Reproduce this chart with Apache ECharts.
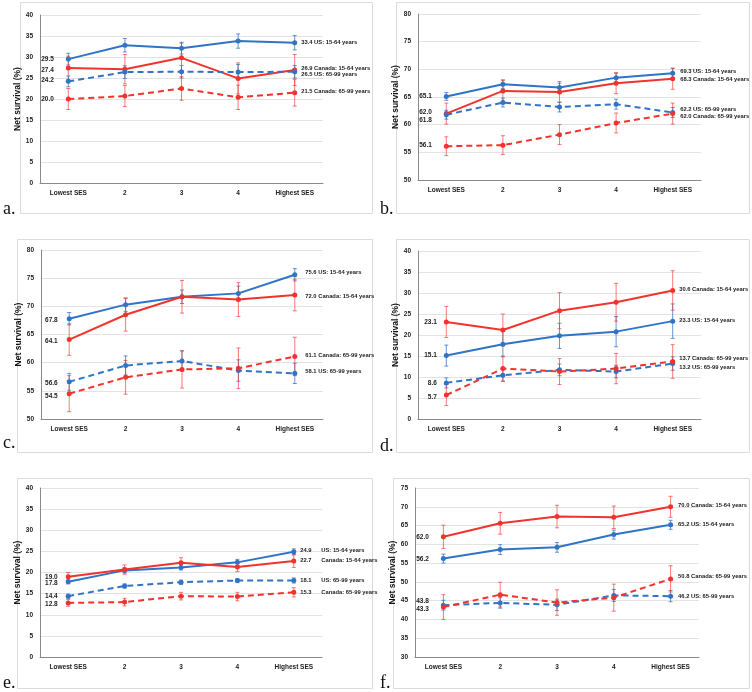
<!DOCTYPE html>
<html>
<head>
<meta charset="utf-8">
<script src="https://cdn.jsdelivr.net/npm/echarts@6/dist/echarts.min.js"></script>
<style>
html, body { margin: 0; background: #fff; }
#chart { width: 752px; height: 692px; }
</style>
</head>
<body>
<div id="chart"></div>
<script>
var categories = ['Lowest SES', '2', '3', '4', 'Highest SES']
var seriesNames = ['US: 15-64 years', 'Canada: 15-64 years', 'US: 65-99 years', 'Canada: 65-99 years']
var panelLetters = ['a.', 'b.', 'c.', 'd.', 'e.', 'f.']

// net survival per panel, rows in seriesNames order
var aVals = [[29.5, 32.8, 32.1, 33.8, 33.4], [27.4, 27.1, 29.8, 24.9, 26.9], [24.2, 26.4, 26.5, 26.4, 26.5], [20.0, 20.7, 22.5, 20.4, 21.5]]
var bVals = [[65.1, 67.3, 66.7, 68.5, 69.3], [62.0, 66.1, 65.9, 67.5, 68.3], [61.8, 64.0, 63.2, 63.7, 62.2], [56.1, 56.3, 58.2, 60.3, 62.0]]
var cVals = [[67.8, 70.3, 71.7, 72.3, 75.6], [64.1, 68.5, 71.7, 71.2, 72.0], [56.6, 59.5, 60.3, 58.6, 58.1], [54.5, 57.4, 58.8, 59.0, 61.1]]
var dVals = [[15.1, 17.8, 19.8, 20.8, 23.3], [23.1, 21.2, 25.8, 27.8, 30.6], [8.6, 10.4, 11.7, 11.3, 13.2], [5.7, 12.0, 11.3, 12.0, 13.7]]
var eVals = [[17.8, 20.5, 21.2, 22.4, 24.9], [19.0, 20.7, 22.3, 21.3, 22.7], [14.4, 16.8, 17.7, 18.1, 18.1], [12.8, 13.0, 14.4, 14.3, 15.3]]
var fVals = [[56.2, 58.6, 59.2, 62.6, 65.2], [62.0, 65.6, 67.4, 67.2, 70.0], [43.8, 44.4, 43.9, 46.4, 46.2], [43.3, 46.6, 44.5, 45.8, 50.8]]

// half width of the confidence intervals
var aErrs = [[1.4, 1.6, 1.4, 1.7, 1.7], [2.8, 3.5, 3.5, 3.7, 3.7], [1.3, 1.5, 1.5, 1.8, 1.5], [2.5, 2.5, 2.8, 2.9, 3.2]]
var bErrs = [[0.7, 0.8, 0.8, 0.8, 0.9], [1.9, 1.9, 1.9, 1.9, 1.9], [0.8, 0.8, 0.9, 0.9, 0.9], [1.7, 1.7, 1.8, 1.8, 1.9]]
var cErrs = [[1.1, 1.2, 1.2, 1.3, 1.1], [2.8, 2.9, 2.9, 3.0, 2.8], [1.5, 1.7, 1.8, 1.9, 1.8], [3.2, 3.0, 3.3, 3.6, 3.4]]
var dErrs = [[2.5, 3.0, 3.0, 3.6, 4.1], [3.7, 3.8, 4.3, 4.5, 4.7], [1.2, 1.4, 1.4, 1.5, 1.6], [2.5, 3.0, 3.1, 3.6, 4.0]]
var eErrs = [[0.5, 0.6, 0.6, 0.7, 0.7], [1.0, 1.1, 1.2, 1.1, 1.5], [0.5, 0.5, 0.5, 0.5, 0.6], [0.8, 0.9, 0.9, 1.0, 1.1]]
var fErrs = [[1.2, 1.3, 1.3, 1.2, 1.2], [3.1, 2.9, 3.0, 3.0, 2.8], [1.3, 1.4, 1.5, 1.6, 1.5], [3.3, 3.3, 3.4, 3.6, 3.5]]

// y axis ranges [min, max]
var aRange = [0, 40]
var bRange = [50, 80]
var cRange = [50, 80]
var dRange = [0, 40]
var eRange = [0, 40]
var fRange = [30, 75]

var allVals = [aVals, bVals, cVals, dVals, eVals, fVals]
var allErrs = [aErrs, bErrs, cErrs, dErrs, eErrs, fErrs]
var allRanges = [aRange, bRange, cRange, dRange, eRange, fRange]

// layout only
var layout = [
  { grid: [40, 15, 283, 168], box: [20, 2, 352, 211], letter: [3, 209], lGap: 12, rGap: 4, numW: 0, lDy: [0, 2, -1, 0], rDy: [0, -2, 3, -1] },
  { grid: [418, 14, 283, 166], box: [396, 2, 353, 211], letter: [380, 209], lGap: 12, rGap: 5, numW: 0, lDy: [0, -1, 5, -1], rDy: [-2, 1, -3, 3] },
  { grid: [41, 250, 282, 169], box: [17, 239, 355, 213], letter: [3, 443], lGap: 9, rGap: 8, numW: 0, lDy: [1, 2, 1, 3], rDy: [-2, 1, -2, -1] },
  { grid: [418, 251, 283, 168], box: [396, 239, 353, 213], letter: [380, 446], lGap: 7, rGap: 4, numW: 0, lDy: [0, 0, 0, 2], rDy: [-1, -1, 4, -3] },
  { grid: [40, 488, 282, 169], box: [17, 478, 355, 210], letter: [3, 683], lGap: 8, rGap: 4, numW: 21, lDy: [1, 0, 0, 1], rDy: [-1, -1, 0, 0] },
  { grid: [415, 488, 284, 169], box: [393, 478, 356, 210], letter: [380, 683], lGap: 12, rGap: 5, numW: 0, lDy: [1, 0, -4, 2], rDy: [0, -1, 0, -2] }
]

var BLUE = '#2f74c6'
var RED = '#f2322c'
var colors = [BLUE, RED, BLUE, RED]
var barColors = ['rgba(47,116,198,0.75)', 'rgba(242,50,44,0.65)', 'rgba(47,116,198,0.75)', 'rgba(242,50,44,0.65)']
var FONT = 'Liberation Sans, Arial, sans-serif'
var LABEL = { fontFamily: FONT, fontSize: 6.5, fontWeight: 'bold', color: '#222' }
var END_LABEL = { fontFamily: FONT, fontSize: 5.8, fontWeight: 'bold', color: '#222' }

var grids = []
var xAxes = []
var yAxes = []
var series = []
var graphics = []

layout.forEach(function (L, p) {
  grids.push({ left: L.grid[0], top: L.grid[1], width: L.grid[2], height: L.grid[3] })
  xAxes.push({
    gridIndex: p,
    type: 'category',
    data: categories,
    boundaryGap: true,
    axisLine: { lineStyle: { color: '#8a8a8a', width: 1 } },
    axisTick: { show: false },
    axisLabel: Object.assign({ margin: 7, interval: 0 }, LABEL)
  })
  yAxes.push({
    gridIndex: p,
    type: 'value',
    min: allRanges[p][0],
    max: allRanges[p][1],
    interval: 5,
    name: 'Net survival (%)',
    nameLocation: 'middle',
    nameRotate: 90,
    nameGap: 14,
    nameTextStyle: { fontFamily: FONT, fontSize: 8.5, fontWeight: 'bold', color: '#111' },
    axisLine: { show: true, lineStyle: { color: '#8a8a8a', width: 1 } },
    axisTick: { show: false },
    axisLabel: Object.assign({ margin: 7 }, LABEL),
    splitLine: { lineStyle: { color: '#e3e3e3', width: 1 } }
  })
  graphics.push({
    type: 'rect',
    shape: { x: L.box[0] + 0.5, y: L.box[1] + 0.5, width: L.box[2], height: L.box[3] },
    style: { fill: 'none', stroke: '#dcdcdc', lineWidth: 1 },
    silent: true
  })
  graphics.push({
    type: 'text',
    x: L.letter[0],
    y: L.letter[1],
    style: { text: panelLetters[p], font: '18px "Liberation Serif", serif', fill: '#111', verticalAlign: 'middle' }
  })

  allVals[p].forEach(function (vals, s) {
    var errs = allErrs[p][s]
    var dashed = s >= 2
    series.push({
      type: 'custom',
      xAxisIndex: p,
      yAxisIndex: p,
      silent: true,
      z: 2,
      data: vals.map(function (v, i) { return [i, v - errs[i], v + errs[i]] }),
      encode: { x: 0, y: [1, 2] },
      renderItem: function (params, api) {
        var lo = api.coord([api.value(0), api.value(1)])
        var hi = api.coord([api.value(0), api.value(2)])
        var st = { stroke: barColors[s], lineWidth: 1 }
        return {
          type: 'group',
          children: [
            { type: 'line', shape: { x1: lo[0], y1: lo[1], x2: hi[0], y2: hi[1] }, style: st },
            { type: 'line', shape: { x1: lo[0] - 2, y1: lo[1], x2: lo[0] + 2, y2: lo[1] }, style: st },
            { type: 'line', shape: { x1: hi[0] - 2, y1: hi[1], x2: hi[0] + 2, y2: hi[1] }, style: st }
          ]
        }
      }
    })
    series.push({
      type: 'line',
      name: seriesNames[s],
      xAxisIndex: p,
      yAxisIndex: p,
      z: 3,
      symbol: 'circle',
      symbolSize: 5,
      showAllSymbol: true,
      lineStyle: { color: colors[s], width: 2, type: dashed ? [6, 4] : 'solid' },
      itemStyle: { color: colors[s] },
      label: Object.assign({}, LABEL),
      data: vals.map(function (v, i) {
        if (i === 0) {
          return { value: v, label: { show: true, position: 'left', distance: L.lGap, offset: [0, L.lDy[s]], formatter: v.toFixed(1) } }
        }
        if (i === vals.length - 1) {
          var txt = L.numW ? '{n|' + v.toFixed(1) + '}' + seriesNames[s] : v.toFixed(1) + ' ' + seriesNames[s]
          return {
            value: v,
            label: Object.assign({
              show: true, position: 'right', distance: L.rGap, offset: [0, L.rDy[s]], formatter: txt,
              rich: { n: Object.assign({ width: L.numW }, END_LABEL) }
            }, END_LABEL)
          }
        }
        return v
      })
    })
  })
})

var myChart = echarts.init(document.getElementById('chart'), null, { renderer: 'canvas' })
myChart.setOption({
  animation: false,
  backgroundColor: '#fff',
  grid: grids,
  xAxis: xAxes,
  yAxis: yAxes,
  series: series,
  graphic: graphics
})
</script>
</body>
</html>
